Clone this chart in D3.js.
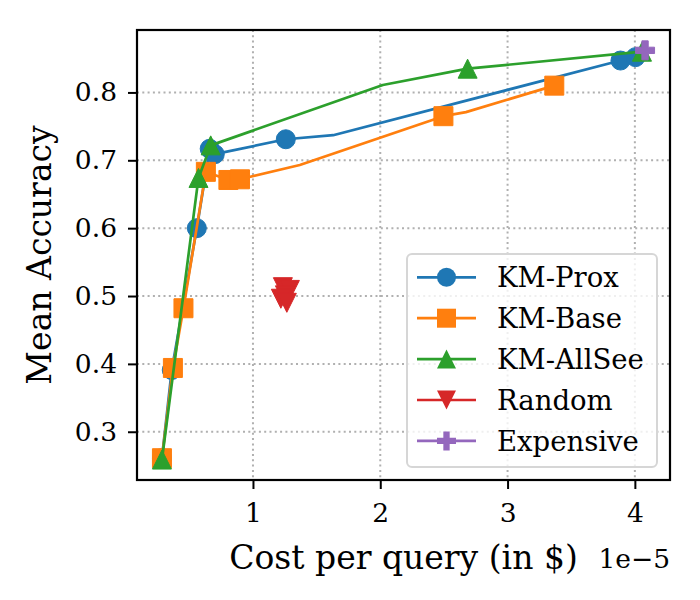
<!DOCTYPE html>
<html>
<head>
<meta charset="utf-8">
<script src="https://cdn.jsdelivr.net/npm/d3@7"></script>
<style>
  body { margin: 0; background: #fff; }
  text { font-family: "DejaVu Serif", serif; }
</style>
</head>
<body>
<svg></svg>
<script>
// values (cost in units of 1e-5 $)
var proxCost = [0.285, 0.362, 0.559, 0.66, 0.70, 1.258, 1.63, 3.887, 4.005];
var proxAcc = [0.261, 0.391, 0.600, 0.717, 0.709, 0.731, 0.737, 0.847, 0.852];
var proxMarked = [1, 1, 1, 1, 1, 1, 0, 1, 1];

var baseCost = [0.285, 0.371, 0.454, 0.63, 0.807, 0.898, 1.368, 2.496, 2.673, 3.367];
var baseAcc = [0.261, 0.394, 0.482, 0.683, 0.671, 0.672, 0.693, 0.765, 0.771, 0.810];
var baseMarked = [1, 1, 1, 1, 1, 1, 0, 1, 0, 1];

var allCost = [0.285, 0.572, 0.668, 2.02, 2.686, 4.056];
var allAcc = [0.259, 0.674, 0.722, 0.811, 0.835, 0.860];
var allMarked = [1, 1, 1, 0, 1, 1];

var randCost = [1.235, 1.290, 1.251, 1.219, 1.266];
var randAcc = [0.513, 0.509, 0.501, 0.496, 0.490];

var expCost = [4.08];
var expAcc = [0.862];

var xTicks = [1, 2, 3, 4];
var yTicks = [0.3, 0.4, 0.5, 0.6, 0.7, 0.8];
var labels = ["KM-Prox", "KM-Base", "KM-AllSee", "Random", "Expensive"];
var colors = ["#1f77b4", "#ff7f0e", "#2ca02c", "#d62728", "#9467bd"];
var shapes = ["circle", "square", "up", "down", "plus"];

var svgWidth = 700,
    svgHeight = 600;
var plotLeft = 137, plotRight = 670, plotTop = 30, plotBottom = 480;
var ms = 19;

var svg = d3.select("svg")
    .attr("width", svgWidth)
    .attr("height", svgHeight);

var x = d3.scaleLinear().domain([0.089, 4.276]).range([plotLeft, plotRight]);
var y = d3.scaleLinear().domain([0.2289, 0.892]).range([plotBottom, plotTop]);

// grid
var grid = svg.append("g");
grid.selectAll(".gx").data(xTicks).enter().append("line")
    .attr("class", "gx")
    .attr("x1", function (d) { return x(d); })
    .attr("x2", function (d) { return x(d); })
    .attr("y1", plotTop).attr("y2", plotBottom);
grid.selectAll(".gy").data(yTicks).enter().append("line")
    .attr("class", "gy")
    .attr("y1", function (d) { return y(d); })
    .attr("y2", function (d) { return y(d); })
    .attr("x1", plotLeft).attr("x2", plotRight);
grid.selectAll("line")
    .attr("stroke", "#b0b0b0")
    .attr("stroke-width", 2)
    .attr("stroke-dasharray", "2,3.3");

function markerPath(shape) {
    var h = ms / 2;
    if (shape == "circle") return d3.symbol().type(d3.symbolCircle).size(Math.PI * h * h)();
    if (shape == "square") return "M" + (-h) + "," + (-h) + "h" + ms + "v" + ms + "h" + (-ms) + "Z";
    if (shape == "up") return "M0," + (-h) + "L" + h + "," + h + "L" + (-h) + "," + h + "Z";
    if (shape == "down") return "M0," + h + "L" + h + "," + (-h) + "L" + (-h) + "," + (-h) + "Z";
    var a = ms / 6, b = h;
    return "M" + (-a) + "," + (-b) + "H" + a + "V" + (-a) + "H" + b + "V" + a + "H" + a + "V" + b +
        "H" + (-a) + "V" + a + "H" + (-b) + "V" + (-a) + "H" + (-a) + "Z";
}

var series = [
    {xs: proxCost, ys: proxAcc, marked: proxMarked, line: true},
    {xs: baseCost, ys: baseAcc, marked: baseMarked, line: true},
    {xs: allCost, ys: allAcc, marked: allMarked, line: true},
    {xs: randCost, ys: randAcc, marked: null, line: false},
    {xs: expCost, ys: expAcc, marked: null, line: false}
];

var line = d3.line()
    .x(function (d) { return x(d[0]); })
    .y(function (d) { return y(d[1]); });

var plot = svg.append("g");
series.forEach(function (s, k) {
    var pts = d3.zip(s.xs, s.ys);
    var g = plot.append("g");
    if (s.line) {
        g.append("path")
            .attr("d", line(pts))
            .attr("fill", "none")
            .attr("stroke", colors[k])
            .attr("stroke-width", 2.7)
            .attr("stroke-linejoin", "round");
    }
    var marks = pts.filter(function (d, i) { return !s.marked || s.marked[i]; });
    g.selectAll("path.m").data(marks).enter().append("path")
        .attr("class", "m")
        .attr("d", markerPath(shapes[k]))
        .attr("transform", function (d) { return "translate(" + x(d[0]) + "," + y(d[1]) + ")"; })
        .attr("fill", colors[k])
        .attr("stroke", colors[k])
        .attr("stroke-width", 1);
});

// axes
var xAxis = svg.append("g")
    .attr("transform", "translate(0," + plotBottom + ")")
    .call(d3.axisBottom(x).tickValues(xTicks).tickFormat(d3.format("d")).tickSize(9).tickPadding(14));
var yAxis = svg.append("g")
    .attr("transform", "translate(" + plotLeft + ",0)")
    .call(d3.axisLeft(y).tickValues(yTicks).tickFormat(d3.format(".1f")).tickSize(9).tickPadding(11));
[xAxis, yAxis].forEach(function (a) {
    a.select(".domain").remove();
    a.selectAll("line").attr("stroke", "#000").attr("stroke-width", 2);
    a.selectAll("text")
        .attr("font-family", "DejaVu Serif")
        .attr("font-size", 26.5)
        .attr("fill", "#000");
});

svg.append("rect")
    .attr("x", plotLeft).attr("y", plotTop)
    .attr("width", plotRight - plotLeft).attr("height", plotBottom - plotTop)
    .attr("fill", "none").attr("stroke", "#000").attr("stroke-width", 2.2);

svg.append("text")
    .attr("x", (plotLeft + plotRight) / 2).attr("y", 569)
    .attr("text-anchor", "middle")
    .attr("font-size", 33)
    .text("Cost per query (in $)");

svg.append("text")
    .attr("x", plotRight).attr("y", 568)
    .attr("text-anchor", "end")
    .attr("font-size", 26.5)
    .text("1e\u22125");

svg.append("text")
    .attr("transform", "translate(51," + (plotTop + plotBottom) / 2 + ") rotate(-90)")
    .attr("text-anchor", "middle")
    .attr("font-size", 33)
    .text("Mean Accuracy");

// legend
var lg = svg.append("g").attr("transform", "translate(407,254)");
lg.append("rect")
    .attr("width", 250).attr("height", 213)
    .attr("rx", 5)
    .attr("fill", "#fff").attr("fill-opacity", 0.8)
    .attr("stroke", "#d6d6d6").attr("stroke-width", 2);
var rows = lg.selectAll("g.row").data(labels).enter().append("g")
    .attr("transform", function (d, i) { return "translate(0," + (23.3 + i * 40.9) + ")"; });
rows.append("line")
    .attr("x1", 10).attr("x2", 69)
    .attr("stroke", function (d, i) { return colors[i]; })
    .attr("stroke-width", 2.7);
rows.append("path")
    .attr("d", function (d, i) { return markerPath(shapes[i]); })
    .attr("transform", "translate(39.5,0)")
    .attr("fill", function (d, i) { return colors[i]; });
rows.append("text")
    .attr("x", 90).attr("y", 10)
    .attr("font-size", 27.5)
    .text(function (d) { return d; });
</script>
</body>
</html>
